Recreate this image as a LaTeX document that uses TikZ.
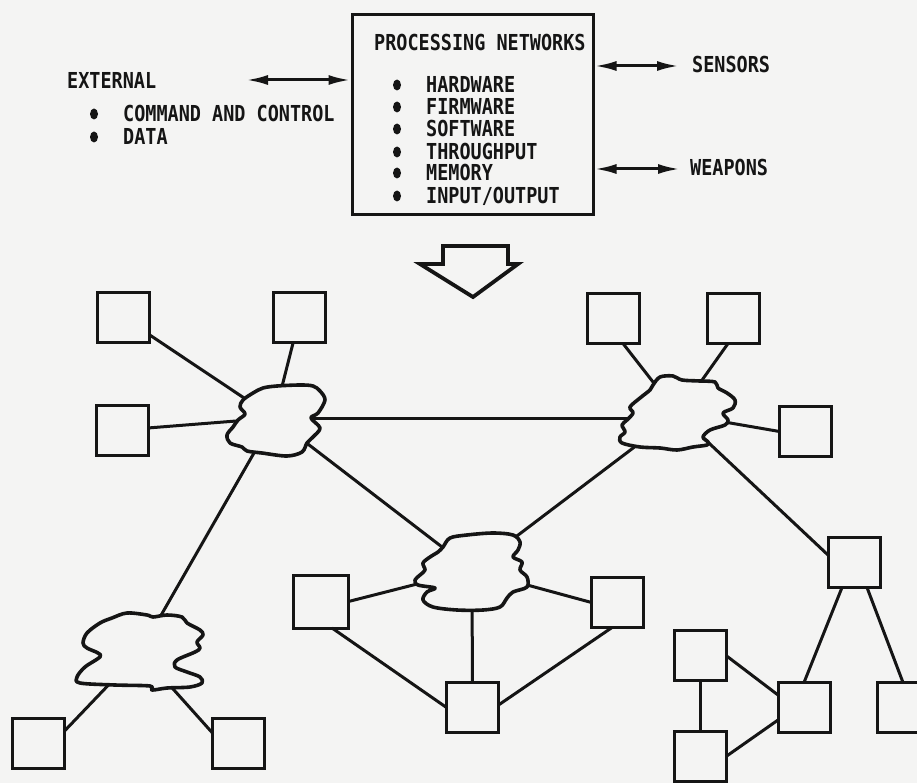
\documentclass[tikz,border=0pt]{standalone}
\usepackage{fontspec}
\newfontfamily\lblfont{DejaVu Sans Mono Bold}[FakeStretch=0.84]
\usetikzlibrary{arrows.meta,shapes.geometric}
\definecolor{paper}{HTML}{F4F4F3}
\definecolor{ink}{HTML}{151515}

\begin{document}
\begin{tikzpicture}[x=1pt,y=-1pt,
  inkline/.style={draw=ink, line width=3pt},
  unit/.style={draw=ink, line width=3pt, fill=paper, minimum width=52pt,
    minimum height=50pt, inner sep=0pt, outer sep=0pt},
  link/.style={draw=ink, line width=3pt},
  cloudline/.style={draw=ink, fill=paper, line width=3.6pt, line join=round},
  label/.style={font=\lblfont\fontsize{22}{24}\selectfont, text=ink,
    inner sep=0pt, anchor=base west},
  dot/.style={ellipse, fill=ink, minimum width=8pt, minimum height=11pt, inner sep=0pt},
  dbl/.style={inkline, {Latex[length=22pt,width=10pt]}-{Latex[length=22pt,width=10pt]}}
]
\useasboundingbox (0,0) rectangle (917,783);
\clip (0,0) rectangle (917,783);
\fill[paper] (0,0) rectangle (917,783);

% ---------- processing network block ----------
\node[draw=ink, line width=3pt, minimum width=241pt, minimum height=200pt,
      inner sep=0pt] (proc) at (472.5,115) {};
\node[label] (title) at (374,51) {PROCESSING NETWORKS};
\foreach \t/\y [count=\i] in {HARDWARE/85, FIRMWARE/107, SOFTWARE/129,
    THROUGHPUT/152, MEMORY/173, INPUT\slash OUTPUT/196} {
  \node[dot] (pb\i) at (397,\y) {};
  \node[label] (pt\i) at (426,\y+8) {\t};
}

\node[label] (ext) at (67,89) {EXTERNAL};
\node[dot] (db1) at (94,114) {};
\node[label] (cmd) at (123,122) {COMMAND AND CONTROL};
\node[dot] (db2) at (94,137) {};
\node[label] (data) at (123,145) {DATA};

\node[label] (sens) at (692,73) {SENSORS};
\node[label] (weap) at (690,176) {WEAPONS};

\coordinate (extarr) at (246,80);
\coordinate (sensarr) at (679,66);
\coordinate (weaparr) at (680,169);
\draw[dbl] (extarr) -- (extarr -| proc.west);
\draw[dbl] (sensarr -| proc.east) -- (sensarr);
\draw[dbl] (weaparr -| proc.east) -- (weaparr);

% hollow arrow down to the network
\draw[draw=ink, line width=3.8pt, line join=miter]
  (443,246) -- (508,246) -- (508,264) -- (518,264) -- (473,297)
  -- (420,264) -- (443,264) -- cycle;

% ---------- processors ----------
\node[unit] (A) at (123.5,317.5) {};
\node[unit] (B) at (299.5,317.5) {};
\node[unit] (C) at (122.5,430) {};
\node[unit] (D) at (613.5,318.5) {};
\node[unit] (E) at (733,318.5) {};
\node[unit] (F) at (805.5,431.5) {};
\node[unit] (G) at (854,562.5) {};
\node[unit, minimum width=55pt, minimum height=53pt] (J) at (321,601.5) {};
\node[unit] (K) at (472.5,707.5) {};
\node[unit] (L) at (617.5,602.5) {};
\node[unit] (H) at (38.5,743.5) {};
\node[unit] (I) at (238.5,743.5) {};
\node[unit] (M) at (700,655.5) {};
\node[unit] (N) at (700,756.5) {};
\node[unit] (O) at (804,707.5) {};
\node[unit] (P) at (903,707.5) {};

% cloud centres
\coordinate (c1) at (274,418);
\coordinate (c2) at (678,414);
\coordinate (c3) at (472,570);
\coordinate (c4) at (140,652);

% ---------- links ----------
\draw[link] (A) -- (c1);
\draw[link] (B) -- (c1);
\draw[link] (C) -- (c1);
\draw[link] (c1) -- (c1 -| c2);
\draw[link] (c1) -- (c4);
\draw[link] (c1) -- (c3);
\draw[link] ([xshift=9.5pt]D.south) -- (c2);
\draw[link] ([xshift=-5pt]E.south) -- (c2);
\draw[link] (c2) -- (F.west);
\draw[link] (c2) -- ([yshift=7.5pt]G.west);
\draw[link] (c2) -- (c3);
\draw[link] (c3) -- (L.west);
\draw[link] (c3) -- (K);
\draw[link] ([xshift=-5.5pt]L.south) -- ([yshift=2.5pt]K.east);
\draw[link] (J.east) -- (c3);
\draw[link] ([xshift=11pt]J.south) -- (K.west);
\draw[link] (c4) -- ([yshift=12.5pt]H.east);
\draw[link] (c4) -- ([yshift=10.5pt]I.west);
\draw[link] ([xshift=-12pt]G.south) -- (O.north);
\draw[link] ([xshift=13pt]G.south) -- (P.north);
\draw[link] (M.east) -- ([yshift=12.5pt]O.west);
\draw[link] (N.east) -- ([yshift=-12.5pt]O.west);
\draw[link] (M) -- (N);

% ---------- network clouds ----------
\draw[cloudline] plot[smooth cycle, tension=0.55] coordinates {
  (253,393) (263,388) (277,386) (300,385) (313,386) (320,391) (325,400)
  (318,413) (311,418) (320,428) (313,437) (307,443) (302,452) (287,456)
  (262,453) (247,451) (242,447) (230,443) (227,435) (233,427) (238,420)
  (245,414) (240,407) (243,400)};
\draw[cloudline] plot[smooth cycle, tension=0.55] coordinates {
  (653,385) (660,377) (673,376) (682,380) (700,381) (715,382) (718,388)
  (727,393) (735,400) (733,408) (723,413) (728,420) (725,425) (710,430)
  (703,437) (708,442) (707,445) (693,447) (677,450) (660,448) (640,447)
  (622,443) (620,437) (625,432) (622,425) (627,420) (633,413) (630,407)
  (640,398) (650,390)};
\draw[cloudline] plot[smooth cycle, tension=0.55] coordinates {
  (443,547) (450,538) (467,535) (493,533) (513,535) (520,542) (518,550)
  (513,557) (522,562) (520,570) (527,577) (527,587) (513,592) (507,598)
  (500,607) (483,610) (457,610) (433,607) (423,600) (427,592) (435,588)
  (418,585) (415,580) (420,575) (425,570) (423,563) (430,557) (438,552)};
\draw[cloudline] plot[smooth cycle, tension=0.55] coordinates {
  (112,618) (127,613) (147,615) (153,617) (167,615) (182,617) (187,623)
  (200,630) (203,635) (197,642) (200,648) (195,652) (177,660) (175,667)
  (187,672) (200,677) (202,683) (190,687) (167,688) (152,690) (150,686)
  (115,685) (80,683) (77,677) (85,667) (100,657) (98,653) (87,648)
  (83,643) (87,633) (100,623)};
\end{tikzpicture}
\end{document}
